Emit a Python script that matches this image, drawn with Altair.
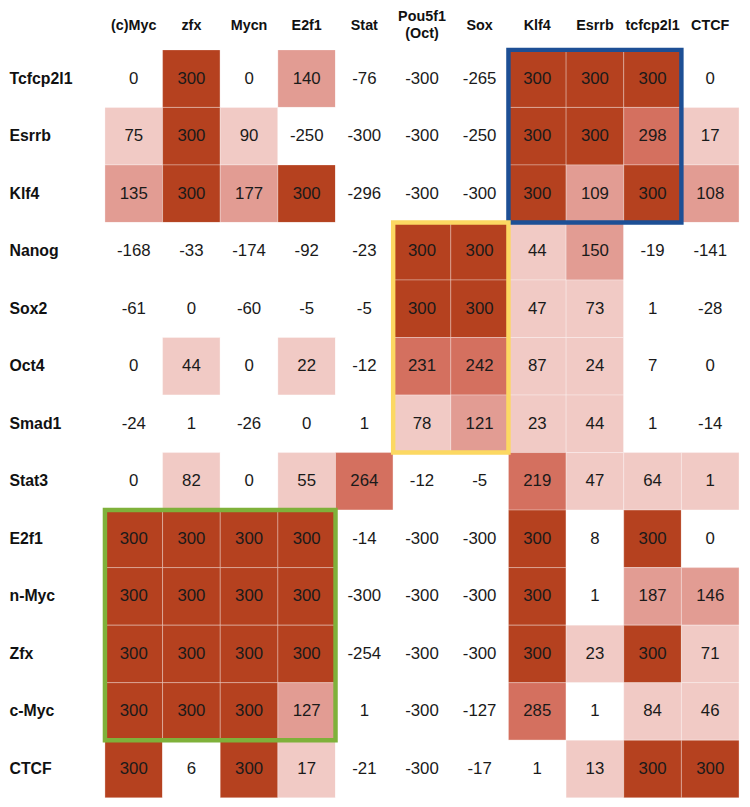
import altair as alt
import pandas as pd

columns = ["(c)Myc", "zfx", "Mycn", "E2f1", "Stat", "Pou5f1 (Oct)", "Sox",
           "Klf4", "Esrrb", "tcfcp2l1", "CTCF"]
rows = ["Tcfcp2l1", "Esrrb", "Klf4", "Nanog", "Sox2", "Oct4", "Smad1",
        "Stat3", "E2f1", "n-Myc", "Zfx", "c-Myc", "CTCF"]

# values per row
v_tcfcp2l1 = [0, 300, 0, 140, -76, -300, -265, 300, 300, 300, 0]
v_esrrb = [75, 300, 90, -250, -300, -300, -250, 300, 300, 298, 17]
v_klf4 = [135, 300, 177, 300, -296, -300, -300, 300, 109, 300, 108]
v_nanog = [-168, -33, -174, -92, -23, 300, 300, 44, 150, -19, -141]
v_sox2 = [-61, 0, -60, -5, -5, 300, 300, 47, 73, 1, -28]
v_oct4 = [0, 44, 0, 22, -12, 231, 242, 87, 24, 7, 0]
v_smad1 = [-24, 1, -26, 0, 1, 78, 121, 23, 44, 1, -14]
v_stat3 = [0, 82, 0, 55, 264, -12, -5, 219, 47, 64, 1]
v_e2f1 = [300, 300, 300, 300, -14, -300, -300, 300, 8, 300, 0]
v_nmyc = [300, 300, 300, 300, -300, -300, -300, 300, 1, 187, 146]
v_zfx = [300, 300, 300, 300, -254, -300, -300, 300, 23, 300, 71]
v_cmyc = [300, 300, 300, 127, 1, -300, -127, 285, 1, 84, 46]
v_ctcf = [300, 6, 300, 17, -21, -300, -17, 1, 13, 300, 300]

# shading level per cell (0 = none ... 4 = strongest)
s_tcfcp2l1 = [0, 4, 0, 2, 0, 0, 0, 4, 4, 4, 0]
s_esrrb = [1, 4, 1, 0, 0, 0, 0, 4, 4, 3, 1]
s_klf4 = [2, 4, 2, 4, 0, 0, 0, 4, 2, 4, 2]
s_nanog = [0, 0, 0, 0, 0, 4, 4, 1, 2, 0, 0]
s_sox2 = [0, 0, 0, 0, 0, 4, 4, 1, 1, 0, 0]
s_oct4 = [0, 1, 0, 1, 0, 3, 3, 1, 1, 0, 0]
s_smad1 = [0, 0, 0, 0, 0, 1, 2, 1, 1, 0, 0]
s_stat3 = [0, 1, 0, 1, 3, 0, 0, 3, 1, 1, 1]
s_e2f1 = [4, 4, 4, 4, 0, 0, 0, 4, 0, 4, 0]
s_nmyc = [4, 4, 4, 4, 0, 0, 0, 4, 0, 2, 2]
s_zfx = [4, 4, 4, 4, 0, 0, 0, 4, 1, 4, 1]
s_cmyc = [4, 4, 4, 2, 0, 0, 0, 3, 0, 1, 1]
s_ctcf = [4, 0, 4, 1, 0, 0, 0, 0, 1, 4, 4]

values = [v_tcfcp2l1, v_esrrb, v_klf4, v_nanog, v_sox2, v_oct4, v_smad1,
          v_stat3, v_e2f1, v_nmyc, v_zfx, v_cmyc, v_ctcf]
levels = [s_tcfcp2l1, s_esrrb, s_klf4, s_nanog, s_sox2, s_oct4, s_smad1,
          s_stat3, s_e2f1, s_nmyc, s_zfx, s_cmyc, s_ctcf]

# highlighted blocks
box_col_start = ["Klf4", "Pou5f1 (Oct)", "(c)Myc"]
box_col_end = ["tcfcp2l1", "Sox", "E2f1"]
box_row_start = ["Tcfcp2l1", "Nanog", "E2f1"]
box_row_end = ["Klf4", "Smad1", "c-Myc"]
box_colors = ["#1d4f95", "#fcd862", "#7fb13a"]

level_colors = ["#ffffff", "#f1cac5", "#e29c93", "#d4705f", "#b5411f"]

records = []
for r, vals, lv in zip(rows, values, levels):
    for c, v, l in zip(columns, vals, lv):
        records.append({"row": r, "col": c, "value": v, "label": str(v), "level": l})
df = pd.DataFrame(records)

boxes = pd.DataFrame({
    "c0": box_col_start, "c1": box_col_end,
    "r0": box_row_start, "r1": box_row_end, "color": box_colors,
})

header = pd.DataFrame({"col": columns})

xscale = alt.Scale(domain=columns, paddingInner=0, paddingOuter=0)
yscale = alt.Scale(domain=rows, paddingInner=0, paddingOuter=0)

x_enc = alt.X("col:N", scale=xscale, sort=columns, title=None, axis=None)
y_enc = alt.Y("row:N", scale=yscale, sort=rows, title=None,
              axis=alt.Axis(orient="left", labelAlign="left", labelPadding=97,
                            labelBaseline="middle",
                            labelFont="Liberation Sans", labelFontWeight="bold",
                            labelFontSize=16, labelColor="#111111"))

cells = alt.Chart(df).mark_rect(stroke="white", strokeOpacity=0.3, strokeWidth=1).encode(
    x=x_enc,
    y=y_enc,
    color=alt.Color("level:O", scale=alt.Scale(domain=[0, 1, 2, 3, 4], range=level_colors),
                    legend=None),
)

labels = alt.Chart(df).mark_text(font="Liberation Sans", fontSize=17, color="#1a1a1a").encode(
    x=alt.X("col:N", scale=xscale, sort=columns),
    y=alt.Y("row:N", scale=yscale, sort=rows),
    text=alt.Text("label:N"),
)

head_style = dict(font="Liberation Sans", fontSize=14.5, fontWeight="bold", color="#111111")

head_single = alt.Chart(header).transform_filter(
    "indexof(datum.col, ' ') < 0"
).mark_text(baseline="middle", **head_style).encode(
    x=alt.X("col:N", scale=xscale, sort=columns),
    y=alt.value(-24),
    text=alt.Text("col:N"),
)

head_multi = alt.Chart(header).transform_filter(
    "indexof(datum.col, ' ') >= 0"
).transform_calculate(
    lines="split(datum.col, ' ')"
).mark_text(baseline="top", lineHeight=17, **head_style).encode(
    x=alt.X("col:N", scale=xscale, sort=columns),
    y=alt.value(-40),
    text=alt.Text("lines:N"),
)

box_layer = alt.Chart(boxes).mark_rect(filled=False, strokeWidth=4.5).encode(
    x=alt.X("c0:N", scale=xscale, bandPosition=0),
    x2=alt.X2("c1:N", bandPosition=1),
    y=alt.Y("r0:N", scale=yscale, bandPosition=0),
    y2=alt.Y2("r1:N", bandPosition=1),
    stroke=alt.Stroke("color:N", scale=None),
)

chart = alt.layer(cells, labels, head_single, head_multi, box_layer).properties(
    width=641, height=756,
    autosize=alt.AutoSizeParams(type="none"),
    padding={"left": 98, "top": 38, "right": 3, "bottom": 2},
).configure_view(stroke=None).configure_axis(
    domain=False, ticks=False, grid=False
)

chart.save("out.html", embed_options={"renderer": "svg", "actions": False})
